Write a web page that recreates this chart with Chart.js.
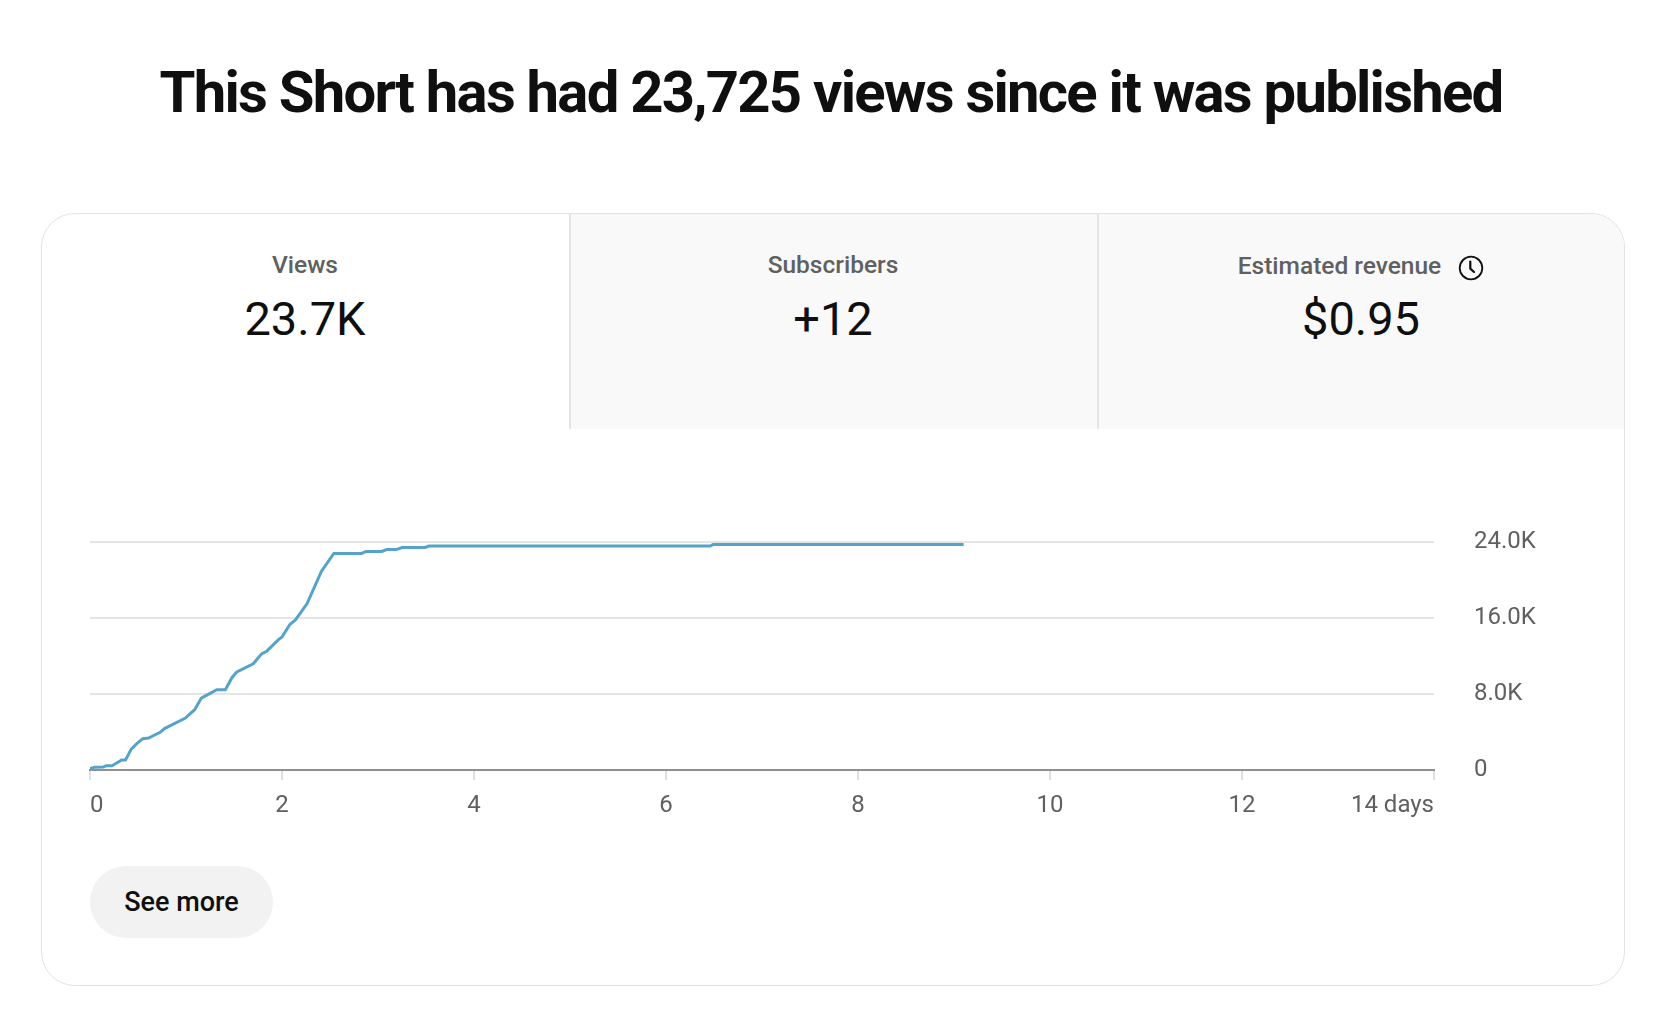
<!DOCTYPE html>
<html><head><meta charset="utf-8">
<script src="https://cdn.jsdelivr.net/npm/chart.js@4.4.1/dist/chart.umd.min.js"></script>
<style>
html,body{margin:0;padding:0;background:#fff;width:1662px;height:1014px;overflow:hidden;font-family:Roboto,sans-serif;}
.abs{position:absolute;}
#title{left:0;width:1662px;top:63px;text-align:center;font-weight:700;font-size:58px;line-height:58px;color:#0f0f0f;white-space:nowrap;}
#card{left:41px;top:213px;width:1584px;height:773px;box-sizing:border-box;border:1.5px solid #e3e3e3;border-radius:34px;overflow:hidden;background:#fff;}
.tab{position:absolute;top:0;height:215px;background:#f9f9f9;border-left:2px solid #e5e5e5;box-sizing:border-box;}
.lbl{width:528px;text-align:center;font-size:24.5px;line-height:24px;font-weight:500;color:#606060;top:253px;display:flex;justify-content:center;align-items:center;}
.val{width:528px;text-align:center;font-size:47px;line-height:47px;font-weight:400;color:#0f0f0f;top:295px;}
#btn{left:90px;top:866px;width:183px;height:72px;border-radius:36px;background:#f2f2f2;text-align:center;line-height:72px;font-size:27px;font-weight:500;color:#0f0f0f;}
#wrap{left:60px;top:500px;width:1500px;height:340px;}
</style></head>
<body>
<div id="title" class="abs">This Short has had 23,725 views since it was published</div>
<div id="card" class="abs">
  <div class="tab" style="left:526.5px;width:528px;"></div>
  <div class="tab" style="left:1054.5px;width:540px;"></div>
</div>
<div class="abs lbl" style="left:41px;">Views</div>
<div class="abs val" style="left:41px;">23.7K</div>
<div class="abs lbl" style="left:569px;">Subscribers</div>
<div class="abs val" style="left:569px;">+12</div>
<div class="abs lbl" style="left:1097px;"><span>Estimated revenue</span><svg style="margin-left:17px;position:relative;top:2px" width="26" height="26" viewBox="0 0 26 26"><circle cx="13" cy="13" r="11.3" fill="none" stroke="#0f0f0f" stroke-width="1.8"/><path d="M12.3 6.5 V13.6 L16 17" fill="none" stroke="#0f0f0f" stroke-width="2.2" stroke-linecap="round" stroke-linejoin="round"/></svg></div>
<div class="abs val" style="left:1097px;">$0.95</div>
<div id="btn" class="abs">See more</div>
<div id="wrap" class="abs"><canvas id="c" width="1500" height="340"></canvas></div>
<script>
// Data
const days = [0, 0.05, 0.14, 0.17, 0.23, 0.33, 0.37, 0.43, 0.49, 0.55, 0.61, 0.73, 0.78, 0.99, 1.09, 1.16, 1.32, 1.41, 1.48, 1.53, 1.70, 1.79, 1.84, 1.96, 2.00, 2.08, 2.14, 2.26, 2.34, 2.41, 2.54, 2.83, 2.875, 3.04, 3.09, 3.19, 3.25, 3.49, 3.53, 6.46, 6.49, 9.10];
const views = [150, 300, 320, 450, 450, 1050, 1050, 2200, 2800, 3300, 3370, 3970, 4390, 5440, 6350, 7570, 8450, 8450, 9740, 10330, 11180, 12250, 12500, 13700, 14000, 15300, 15800, 17500, 19300, 20900, 22800, 22800, 23000, 23000, 23200, 23200, 23420, 23420, 23580, 23580, 23725, 23725];
const xTickLabels = ['0', '2', '4', '6', '8', '10', '12', '14 days'];
const yTickLabels = ['0', '8.0K', '16.0K', '24.0K'];

// fit title width
(function(){
  const t = document.getElementById('title');
  const ctx = document.createElement('canvas').getContext('2d');
  ctx.font = '700 58px Roboto';
  const w = ctx.measureText(t.textContent).width;
  const n = t.textContent.length;
  const ls = (1343 - w) / n;
  t.style.letterSpacing = ls + 'px';
  t.style.paddingLeft = ls + 'px';
})();

Chart.defaults.font.family = 'Roboto';
const points = days.map((d, i) => ({x: d, y: views[i]}));
new Chart(document.getElementById('c'), {
  type: 'line',
  data: { datasets: [{ data: points, borderColor: '#55a3c8', borderWidth: 3, pointRadius: 0, tension: 0, fill: false }] },
  options: {
    responsive: false,
    animation: false,
    events: [],
    layout: { padding: { left: 30, top: 42, right: 0, bottom: 0 } },
    plugins: { legend: { display: false }, tooltip: { enabled: false } },
    scales: {
      x: {
        type: 'linear', min: 0, max: 14,
        afterFit: s => { s.height = 70; },
        afterBuildTicks: s => { s.ticks = xTickLabels.map((l, i) => ({value: i * 2})); },
        border: { display: true, color: '#909090', width: 2 },
        grid: { display: true, drawOnChartArea: false, drawTicks: true, tickLength: 10, color: '#e0e0e0', lineWidth: 2 },
        ticks: { align: 'inner', maxRotation: 0, autoSkip: false, padding: 12, color: '#606060', font: { size: 24 },
          callback: (v, i) => xTickLabels[i] }
      },
      y: {
        position: 'right', min: 0, max: 24000,
        afterFit: s => { s.width = 126; s.paddingTop = 0; s.paddingBottom = 0; },
        afterBuildTicks: s => { s.ticks = yTickLabels.map((l, i) => ({value: i * 8000})); },
        border: { display: false },
        grid: { drawTicks: false, lineWidth: 2, color: c => c.tick && c.tick.value === 0 ? 'rgba(0,0,0,0)' : '#e5e5e5' },
        ticks: { padding: 40, color: '#606060', font: { size: 24 }, callback: (v, i) => yTickLabels[i] }
      }
    }
  }
});
</script>
</body></html>
